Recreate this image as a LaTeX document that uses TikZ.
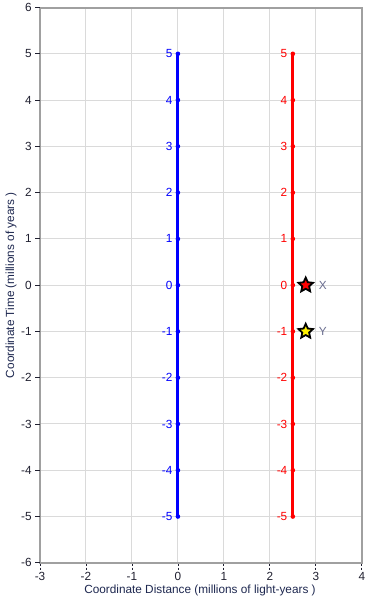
\documentclass[tikz,border=0pt]{standalone}
\usepackage{fontspec}
\setmainfont{Liberation Sans}
\usetikzlibrary{shapes.geometric}
\definecolor{gridc}{HTML}{DADADA}
\definecolor{axisc}{HTML}{A0A0A0}
\definecolor{lblue}{HTML}{0000FF}
\definecolor{lred}{HTML}{FF0000}
\definecolor{titlec}{HTML}{1E2850}
\definecolor{tickc}{HTML}{202030}
\definecolor{starlbl}{HTML}{6A6E90}
\tikzset{
  gridline/.style={gridc, line width=0.5pt},
  frameline/.style={axisc, line width=1pt},
  tickmark/.style={tickc, line width=0.4pt},
  ticklbl/.style={tickc, inner sep=0pt},
  bline/.style={lblue, line width=1.5pt},
  rline/.style={lred, line width=1.5pt},
  blbl/.style={lblue, inner sep=0pt, anchor=east},
  rlbl/.style={lred, inner sep=0pt, anchor=east},
  starnode/.style={star, star points=5, star point ratio=2.1, minimum size=7.6pt, inner sep=0pt, draw=black, line width=0.9pt},
  axtitle/.style={titlec, inner sep=0pt},
}
\begin{document}
\begin{tikzpicture}[x=23pt,y=23.15pt, font=\fontsize{5.9}{7}\selectfont]
\useasboundingbox (-3.870,-6.804) rectangle (4.239,6.163);
\fill[white] (-3.870,-6.804) rectangle (4.239,6.163);
% grid
\foreach \x in {-2,...,3} \draw[gridline] (\x,-6) -- (\x,6);
\foreach \y in {-5,...,5} \draw[gridline] (-3,\y) -- (4,\y);
% frame
\draw[frameline] (-3,-6) rectangle (4,6);
% y ticks
\foreach \y in {-6,...,6} {
  \draw[tickmark] (-3,\y) -- ++(-2.6pt,0);
  \node[ticklbl, anchor=east] (yl\y) at ([xshift=-4pt]-3,\y) {\y};
}
% x ticks
\foreach \x in {-3,...,4} {
  \draw[tickmark, dash pattern=on 1.2pt off 0.6pt] (\x,-6) ++(0,-0.6pt) -- ++(0,-3pt);
  \node[ticklbl] (xl\x) at (\x,-6.29) {\x};
}
% axis titles
\node[axtitle] (xtitle) at (0.48,-6.6) {Coordinate Distance (millions of light-years )};
\node[axtitle, rotate=90] (ytitle) at (-3.63,0) {Coordinate Time (millions of years )};
% blue world line
\foreach \y in {-5,...,5} \coordinate (b\y) at (0,\y);
\draw[bline] (b-5) -- (b5);
\foreach \y in {-5,...,5} {
  \fill[lblue] (b\y) circle (1.15pt);
  \node[blbl] (bl\y) at ([xshift=-2.6pt]b\y) {\y};
}
% red world line
\foreach \y in {-5,...,5} \coordinate (r\y) at (2.5,\y);
\draw[rline] (r-5) -- (r5);
\foreach \y in {-5,...,5} {
  \fill[lred] (r\y) circle (1.15pt);
  \node[rlbl] (rl\y) at ([xshift=-2.6pt]r\y) {\y};
}
% events
\node[starnode, fill=lred] (X) at (2.78,0) {};
\node[starnode, fill=yellow] (Y) at (2.78,-1) {};
\node[starlbl, inner sep=0pt] (Xl) at (3.15,0) {X};
\node[starlbl, inner sep=0pt] (Yl) at (3.15,-1) {Y};
\end{tikzpicture}
\end{document}
